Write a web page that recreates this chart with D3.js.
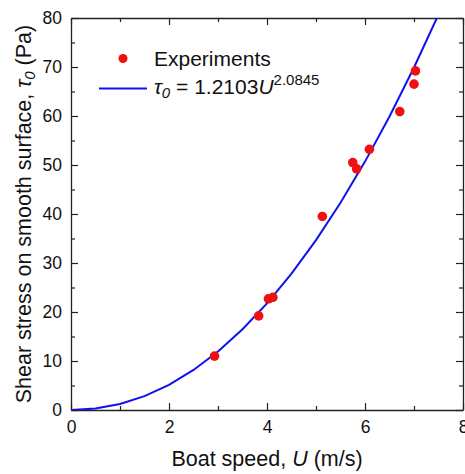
<!DOCTYPE html>
<html>
<head>
<meta charset="utf-8">
<script src="https://cdn.jsdelivr.net/npm/d3@7"></script>
<style>
  html, body { margin: 0; padding: 0; background: #fff; }
  svg { display: block; }
  text { font-family: "Liberation Sans", Arial, sans-serif; fill: #111; }
</style>
</head>
<body>
<svg id="chart" width="465" height="474"></svg>
<script>
// Measured boat speed U (m/s) and wall shear stress tau0 (Pa)
const speedU = [2.93, 3.83, 4.03, 4.12, 5.13, 5.75, 5.83, 6.09, 6.71, 7.00, 7.03];
const shearTau = [11.0, 19.2, 22.7, 23.0, 39.5, 50.5, 49.2, 53.2, 60.9, 66.5, 69.2];

// Power-law fit tau0 = a * U^b
const fitA = 1.2103;
const fitB = 2.0845;
const fitU = [0, 0.5, 1, 1.5, 2, 2.5, 3, 3.5, 4, 4.5, 5, 5.5, 6, 6.5, 7, 7.5, 8];

const xMajor = [0, 2, 4, 6, 8];
const xMinor = [1, 3, 5, 7];
const yMajor = [0, 10, 20, 30, 40, 50, 60, 70, 80];
const yMinor = [5, 15, 25, 35, 45, 55, 65, 75];

const margin = { left: 71, top: 18, right: 2, bottom: 64 };
const svg = d3.select("#chart");

const x = d3.scaleLinear().domain([0, 8]).range([margin.left, margin.left + 392]);
const y = d3.scaleLinear().domain([0, 80]).range([margin.top + 392, margin.top]);

const axisColor = "#222";
const majorLen = 7, minorLen = 4;

function styleAxis(g) {
  g.selectAll("path.domain").attr("stroke", axisColor).attr("stroke-width", 1.3);
  g.selectAll(".tick line").attr("stroke", axisColor).attr("stroke-width", 1.2);
}

// Bottom axis with labels, ticks pointing inward
const gx = svg.append("g").attr("transform", `translate(0,${y(0)})`)
  .call(d3.axisBottom(x).tickValues(xMajor).tickSizeInner(-majorLen).tickSizeOuter(0)
    .tickPadding(11).tickFormat(d3.format("d")));
gx.selectAll(".tick text").attr("font-size", 17.5).attr("fill", "#111");
svg.append("g").attr("transform", `translate(0,${y(0)})`)
  .call(d3.axisBottom(x).tickValues(xMinor).tickSizeInner(-minorLen).tickSizeOuter(0).tickFormat(""))
  .call(g => g.select("path.domain").remove());

// Top axis, ticks only
svg.append("g").attr("transform", `translate(0,${y(80)})`)
  .call(d3.axisTop(x).tickValues(xMajor).tickSizeInner(-majorLen).tickSizeOuter(0).tickFormat(""));
svg.append("g").attr("transform", `translate(0,${y(80)})`)
  .call(d3.axisTop(x).tickValues(xMinor).tickSizeInner(-minorLen).tickSizeOuter(0).tickFormat(""))
  .call(g => g.select("path.domain").remove());

// Left axis with labels
const gy = svg.append("g").attr("transform", `translate(${x(0)},0)`)
  .call(d3.axisLeft(y).tickValues(yMajor).tickSizeInner(-majorLen).tickSizeOuter(0)
    .tickPadding(9).tickFormat(d3.format("d")));
gy.selectAll(".tick text").attr("font-size", 17.5).attr("fill", "#111");
svg.append("g").attr("transform", `translate(${x(0)},0)`)
  .call(d3.axisLeft(y).tickValues(yMinor).tickSizeInner(-minorLen).tickSizeOuter(0).tickFormat(""))
  .call(g => g.select("path.domain").remove());

// Right axis, ticks only
svg.append("g").attr("transform", `translate(${x(8)},0)`)
  .call(d3.axisRight(y).tickValues(yMajor).tickSizeInner(-majorLen).tickSizeOuter(0).tickFormat(""));
svg.append("g").attr("transform", `translate(${x(8)},0)`)
  .call(d3.axisRight(y).tickValues(yMinor).tickSizeInner(-minorLen).tickSizeOuter(0).tickFormat(""))
  .call(g => g.select("path.domain").remove());

svg.selectAll("g").call(styleAxis);

// Clip the fitted curve to the plotting area
svg.append("clipPath").attr("id", "plotClip")
  .append("rect")
  .attr("x", x(0)).attr("y", y(80))
  .attr("width", x(8) - x(0)).attr("height", y(0) - y(80));

const fitLine = d3.line()
  .x(u => x(u))
  .y(u => y(fitA * Math.pow(u, fitB)));

svg.append("path")
  .datum(fitU)
  .attr("clip-path", "url(#plotClip)")
  .attr("d", fitLine)
  .attr("fill", "none")
  .attr("stroke", "#1010f0")
  .attr("stroke-width", 2);

// Experimental points
svg.append("g").selectAll("circle")
  .data(speedU.map((u, i) => [u, shearTau[i]]))
  .join("circle")
  .attr("cx", d => x(d[0]))
  .attr("cy", d => y(d[1]))
  .attr("r", 4.8)
  .attr("fill", "#f01010");

// Legend
const legend = svg.append("g");
legend.append("circle").attr("cx", 123).attr("cy", 58.5).attr("r", 4.5).attr("fill", "#f01010");
legend.append("text").attr("x", 154).attr("y", 66).attr("font-size", 21).text("Experiments");
legend.append("line").attr("x1", 99).attr("x2", 147).attr("y1", 88.5).attr("y2", 88.5)
  .attr("stroke", "#1010f0").attr("stroke-width", 2);
const eq = legend.append("text").attr("x", 154).attr("y", 94).attr("font-size", 21);
eq.append("tspan").attr("font-style", "italic").text("τ");
eq.append("tspan").attr("font-style", "italic").attr("font-size", 15).attr("dy", 4).text("0");
eq.append("tspan").attr("dy", -4).text(" = 1.2103");
eq.append("tspan").attr("font-style", "italic").text("U");
eq.append("tspan").attr("font-size", 15).attr("dy", -9).text("2.0845");

// Axis titles
const xt = svg.append("text")
  .attr("x", x(4)).attr("y", 466)
  .attr("text-anchor", "middle").attr("font-size", 21.5);
xt.append("tspan").text("Boat speed, ");
xt.append("tspan").attr("font-style", "italic").text("U");
xt.append("tspan").text(" (m/s)");

const yt = svg.append("text")
  .attr("transform", `translate(31,${(y(0) + y(80)) / 2}) rotate(-90)`)
  .attr("text-anchor", "middle").attr("font-size", 21.5);
yt.append("tspan").text("Shear stress on smooth surface, ");
yt.append("tspan").attr("font-style", "italic").text("τ");
yt.append("tspan").attr("font-style", "italic").attr("font-size", 15).attr("dy", 4).text("0");
yt.append("tspan").attr("dy", -4).text(" (Pa)");
</script>
</body>
</html>
